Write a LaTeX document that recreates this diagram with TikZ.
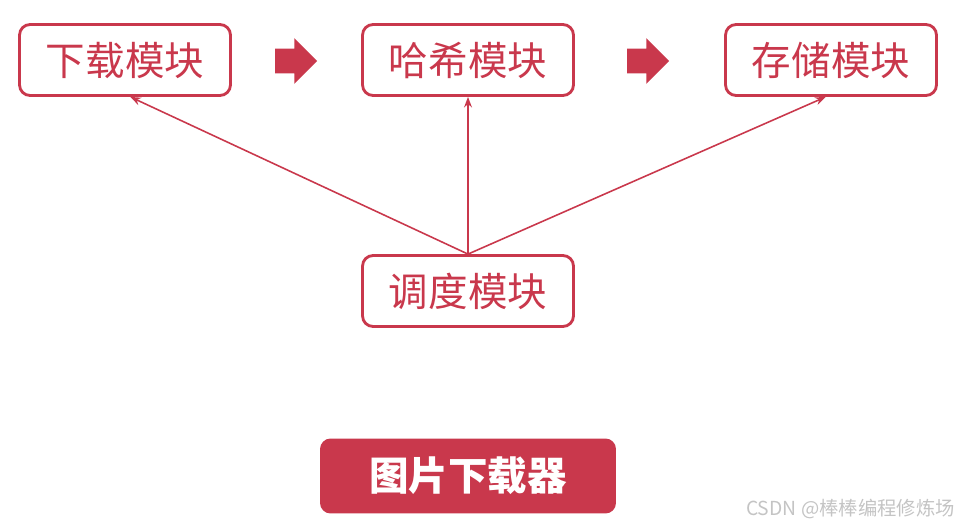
\documentclass[tikz,border=0pt]{standalone}
\usepackage{fontspec}
\usepackage{xcolor}
\usetikzlibrary{arrows.meta, positioning, shapes.arrows}
\newfontfamily\cjk{Noto Sans CJK SC}
\definecolor{modred}{HTML}{C9384C}
\definecolor{markgray}{HTML}{C4C4C4}

\begin{document}
\begin{tikzpicture}[
  x=0.02cm, y=-0.02cm,
  >={Stealth[length=6pt, width=4.5pt]},
  modbox/.style={draw=modred, line width=1.6pt, rounded corners=6pt, minimum width=4.22cm, minimum height=1.42cm, text=modred, font=\cjk\fontsize{22.5}{26}\selectfont},
  flowarrow/.style={single arrow, fill=modred, draw=none, minimum height=0.84cm, single arrow head extend=0.21cm, inner xsep=0pt, inner ysep=0.24cm},
  titlebox/.style={fill=modred, rounded corners=6pt, minimum width=5.92cm, minimum height=1.5cm, text=white, font=\cjk\bfseries\fontsize{22.5}{26}\selectfont}
]
\useasboundingbox (0,0) rectangle (960,527);

\node[modbox] (dl) at (125,60) {下载模块};
\node[modbox] (hash) at (468,60) {哈希模块};
\node[modbox] (store) at (831,60) {存储模块};
\node[modbox] (sched) at (468,291) {调度模块};

\node[flowarrow] (a1) at (290,61) {};
\node[flowarrow] (a2) at (642,61) {};

\draw[->, modred, line width=0.9pt] (sched.north) -- ([xshift=3]dl.south);
\draw[->, modred, line width=0.9pt] (sched.north) -- (hash.south);
\draw[->, modred, line width=0.9pt] (sched.north) -- ([xshift=-3]store.south);

\node[titlebox] (title) at (468,476) {图片下载器};

\node[anchor=east, text=markgray, font=\cjk\fontsize{11}{13}\selectfont, inner sep=0pt] (mark) at (955,509) {CSDN @棒棒编程修炼场};
\end{tikzpicture}
\end{document}
